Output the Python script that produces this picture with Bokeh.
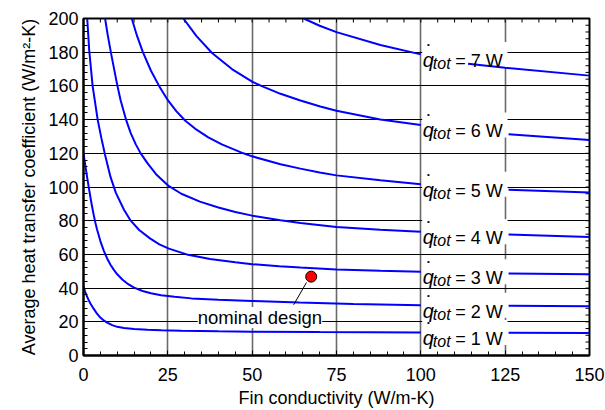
import math
from bokeh.plotting import figure
from bokeh.models import Range1d, SingleIntervalTicker, Label
from bokeh.core.properties import value
from bokeh.embed import file_html
from bokeh.resources import INLINE

FONT = "Liberation Sans"

# ---- data: fin conductivity k (W/m-K) vs average heat transfer coefficient h (W/m^2-K)
# each curve: left part (up to the label) and right part (after the label)
q1_k_left = [0, 0.5, 1, 1.5, 2, 3, 4, 5, 6, 7, 8.5, 10, 12, 15, 19, 23, 29, 40, 50, 70, 100]
q1_h_left = [41, 37.8, 35.2, 33, 31, 27.8, 24.8, 22.5, 20.8, 19.5, 18.0, 17.0, 16.3, 15.75, 15.35, 15.05, 14.75, 14.4, 14.15, 13.9, 13.7]
q1_k_right = [126, 150]
q1_h_right = [13.5, 13.3]

q2_k_left = [0, 0.5, 1, 1.5, 2, 2.5, 3, 3.5, 4, 5, 6, 7, 8, 9, 10, 11.5, 13, 15, 17.5, 20, 23, 27, 32, 40, 50, 64, 80, 100]
q2_h_left = [120, 113.3, 106.8, 100.5, 94.5, 88.9, 83.7, 79, 74.9, 67.9, 62.2, 57.6, 53.9, 50.8, 48.2, 45.1, 42.7, 40.3, 38.3, 36.9, 35.8, 34.8, 33.9, 33.1, 32.4, 31.4, 30.5, 29.8]
q2_k_right = [126, 150]
q2_h_right = [29.5, 29.3]

q3_k_left = [1.1, 1.7, 2.7, 4.2, 5.3, 6.4, 8, 9.6, 12, 14, 16.5, 19.7, 22.5, 25.3, 30.6, 37.5, 45, 50, 58, 64.3, 75, 88, 100]
q3_h_left = [200, 181, 160, 140, 129, 119, 106, 96.5, 86.5, 80, 74.5, 69.5, 66, 63.4, 60, 57.3, 55.3, 54.2, 53, 52.2, 51.1, 50.3, 49.7]
q3_k_right = [126, 150]
q3_h_right = [48.7, 48.2]

q4_k_left = [6.4, 7.2, 8.2, 9.9, 11, 12.6, 14, 15.5, 17, 19, 21.5, 25, 29, 34.5, 40, 45, 50, 58.4, 64.3, 75, 88, 100]
q4_h_left = [200, 190, 179, 161.5, 151.5, 140, 132, 125.3, 119.8, 114, 107.6, 101, 96, 91.3, 87.8, 85.2, 83, 80.3, 78.6, 76.3, 74.7, 73.4]
q4_k_right = [126, 150]
q4_h_right = [71.8, 70.4]

q5_k_left = [14.3, 15.9, 17.6, 20, 22.4, 25, 27.5, 30.1, 33.5, 37, 41, 47.4, 50, 58.4, 64.3, 70, 75, 88, 100]
q5_h_left = [200, 189.5, 180, 169, 160, 151.5, 145, 139.5, 134, 129.5, 125.3, 120, 118.2, 113.5, 110.9, 108.6, 106.9, 104, 101.7]
q5_k_right = [126, 150]
q5_h_right = [98.4, 96.8]

q6_k_left = [29.6, 33.5, 38.1, 44, 50.1, 53.4, 58.4, 64.3, 70.2, 75, 88, 100]
q6_h_left = [200, 189.5, 179.5, 170, 162.4, 159.4, 155.3, 151.3, 147.8, 145.2, 140, 136.8]
q6_k_right = [126, 150]
q6_h_right = [131.3, 127.9]

q7_k_left = [65.3, 70, 75, 88, 100]
q7_h_left = [200, 195.7, 191.9, 184.3, 178.7]
q7_k_right = [114, 125, 150]
q7_h_right = [173.2, 170.8, 166.1]

q_levels = [1, 2, 3, 4, 5, 6, 7]
label_texts = ["= %d W" % q for q in q_levels]

nominal_k = [67.5]
nominal_h = [46.8]
nominal_text = "nominal design"
nominal_text_k = 52.3
nominal_text_h = 22.5
leader_k = [62.3, 66.1]
leader_h = [30.1, 43.3]

x_title = "Fin conductivity (W/m-K)"
y_title = "Average heat transfer coefficient (W/m\u00b2-K)"

# minor tick positions on the top and right frame edges
top_tick_k = list(range(0, 151, 5))
right_tick_h = list(range(0, 201, 4))

lefts_k = [q1_k_left, q2_k_left, q3_k_left, q4_k_left, q5_k_left, q6_k_left, q7_k_left]
lefts_h = [q1_h_left, q2_h_left, q3_h_left, q4_h_left, q5_h_left, q6_h_left, q7_h_left]
rights_k = [q1_k_right, q2_k_right, q3_k_right, q4_k_right, q5_k_right, q6_k_right, q7_k_right]
rights_h = [q1_h_right, q2_h_right, q3_h_right, q4_h_right, q5_h_right, q6_h_right, q7_h_right]

label_k = [lk[-1] for lk in lefts_k]
label_h = [lh[-1] for lh in lefts_h]

# ---- figure
p = figure(width=605, height=410, x_range=Range1d(0, 150), y_range=Range1d(0, 200),
           output_backend="svg", toolbar_location=None,
           min_border_left=83, min_border_right=16, min_border_top=18, min_border_bottom=53)
p.background_fill_color = "white"
p.border_fill_color = "white"
p.outline_line_color = "black"
p.outline_line_width = 2

x_ticker = SingleIntervalTicker(interval=25, num_minor_ticks=5)
y_ticker = SingleIntervalTicker(interval=20, num_minor_ticks=5)

p.xaxis.ticker = x_ticker
p.yaxis.ticker = y_ticker
p.xgrid.ticker = x_ticker
p.ygrid.ticker = y_ticker
p.xgrid.grid_line_color = "#6a6a6a"
p.xgrid.grid_line_width = 1.6
p.ygrid.grid_line_color = "black"
p.ygrid.grid_line_width = 1

for ax in (p.xaxis[0], p.yaxis[0]):
    ax.axis_line_color = "black"
    ax.axis_line_width = 2
    ax.major_tick_in = 5
    ax.major_tick_out = 0
    ax.minor_tick_in = 4
    ax.minor_tick_out = 0
    ax.major_tick_line_color = "black"
    ax.minor_tick_line_color = "black"
    ax.major_label_text_font = FONT
    ax.major_label_text_font_size = "18px"
    ax.major_label_text_color = "black"
    ax.axis_label_text_font = FONT
    ax.axis_label_text_font_size = "18px"
    ax.axis_label_text_font_style = "normal"
    ax.axis_label_text_color = "black"

p.xaxis.axis_label = x_title
p.yaxis.axis_label = y_title
p.xaxis.major_label_standoff = 12
p.xaxis.axis_label_standoff = 4
p.yaxis.major_label_standoff = 5
p.yaxis.axis_label_standoff = 6

# inward minor ticks along the top and right frame edges (half of each dash is clipped)
p.scatter(x=top_tick_k, y=[200] * len(top_tick_k), marker="dash", size=8,
          angle=math.pi / 2, line_color="black", line_width=1)
p.scatter(x=[150] * len(right_tick_h), y=right_tick_h, marker="dash", size=8,
          line_color="black", line_width=1)

# label background boxes (hide grid lines)
p.rect(x=[k + 13.05 for k in label_k], y=label_h, width=25.3, height=25,
       height_units="screen", fill_color="white", line_color=None)

# curves
p.multi_line(xs=lefts_k + rights_k, ys=lefts_h + rights_h, line_color="#0000ff", line_width=2)

# q labels
p.text(x=label_k, y=label_h, text=["q"] * len(label_k), text_font=value(FONT),
       text_font_size="20px", text_font_style="italic", text_align="left",
       text_baseline="alphabetic", x_offset=2, y_offset=5.5, text_color="black")
p.text(x=label_k, y=label_h, text=["\u2022"] * len(label_k), text_font=value(FONT),
       text_font_size="8px", text_align="center",
       text_baseline="middle", x_offset=7.5, y_offset=-10, text_color="black")
p.text(x=label_k, y=label_h, text=["tot"] * len(label_k), text_font=value(FONT),
       text_font_size="16px", text_font_style="italic", text_align="left",
       text_baseline="alphabetic", x_offset=12, y_offset=9, text_color="black")
p.text(x=label_k, y=label_h, text=label_texts, text_font=value(FONT),
       text_font_size="18px", text_align="left",
       text_baseline="alphabetic", x_offset=34.5, y_offset=6.5, text_color="black")

# nominal design annotation
p.line(x=leader_k, y=leader_h, line_color="black", line_width=1)
p.scatter(x=nominal_k, y=nominal_h, size=11, fill_color="#ff0000", line_color="black", line_width=1)
p.add_layout(Label(x=nominal_text_k, y=nominal_text_h, text=nominal_text, text_font=FONT,
                   text_font_size="18.5px", text_align="center", text_baseline="middle",
                   background_fill_color="white", text_color="black"))

open("out.html", "w").write(file_html(p, INLINE))
